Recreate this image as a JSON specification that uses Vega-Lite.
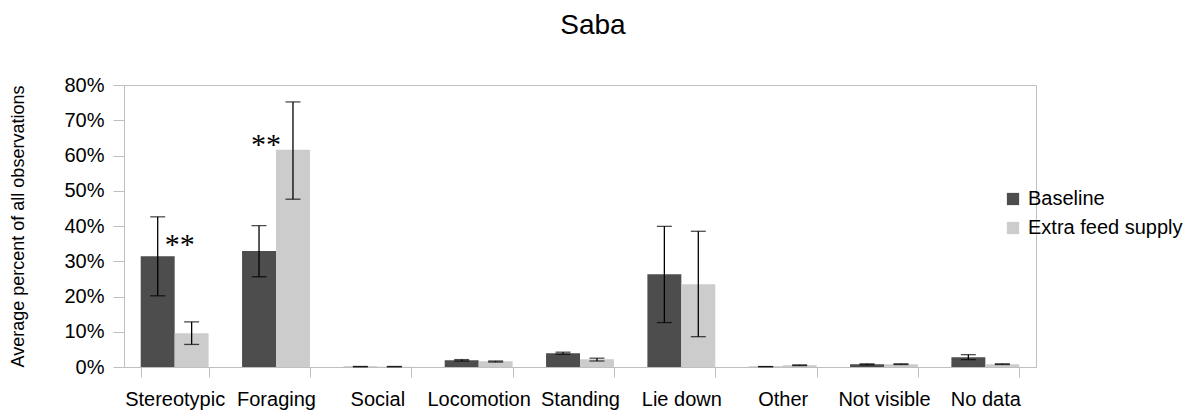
{
  "$schema": "https://vega.github.io/schema/vega-lite/v6.json",
  "width": 912,
  "height": 282,
  "autosize": "none",
  "padding": {"left": 124, "top": 85, "right": 162, "bottom": 43},
  "background": "white",
  "config": {"view": {"stroke": "#bfbfbf", "strokeWidth": 1}, "font": "Liberation Sans"},
  "title": {"text": "Saba", "fontSize": 28, "fontWeight": "normal", "font": "Liberation Sans", "color": "#000000", "anchor": "middle", "frame": "group", "baseline": "alphabetic", "offset": 13, "dx": 13},
  "data": {"values": [
    {"category": "Stereotypic", "group": "Baseline", "value": 0.314, "lo": 0.202, "hi": 0.426},
    {"category": "Stereotypic", "group": "Extra feed supply", "value": 0.096, "lo": 0.064, "hi": 0.128},
    {"category": "Foraging", "group": "Baseline", "value": 0.329, "lo": 0.256, "hi": 0.401},
    {"category": "Foraging", "group": "Extra feed supply", "value": 0.616, "lo": 0.476, "hi": 0.752},
    {"category": "Social", "group": "Baseline", "value": 0.001, "lo": 0.0005, "hi": 0.0015},
    {"category": "Social", "group": "Extra feed supply", "value": 0.001, "lo": 0.0005, "hi": 0.0015},
    {"category": "Locomotion", "group": "Baseline", "value": 0.019, "lo": 0.017, "hi": 0.021},
    {"category": "Locomotion", "group": "Extra feed supply", "value": 0.016, "lo": 0.014, "hi": 0.017},
    {"category": "Standing", "group": "Baseline", "value": 0.039, "lo": 0.036, "hi": 0.042},
    {"category": "Standing", "group": "Extra feed supply", "value": 0.022, "lo": 0.017, "hi": 0.025},
    {"category": "Lie down", "group": "Baseline", "value": 0.263, "lo": 0.126, "hi": 0.399},
    {"category": "Lie down", "group": "Extra feed supply", "value": 0.235, "lo": 0.086, "hi": 0.385},
    {"category": "Other", "group": "Baseline", "value": 0.001, "lo": 0.0008, "hi": 0.0013},
    {"category": "Other", "group": "Extra feed supply", "value": 0.005, "lo": 0.004, "hi": 0.006},
    {"category": "Not visible", "group": "Baseline", "value": 0.008, "lo": 0.006, "hi": 0.009},
    {"category": "Not visible", "group": "Extra feed supply", "value": 0.008, "lo": 0.007, "hi": 0.009},
    {"category": "No data", "group": "Baseline", "value": 0.028, "lo": 0.021, "hi": 0.035},
    {"category": "No data", "group": "Extra feed supply", "value": 0.008, "lo": 0.007, "hi": 0.009}
  ]},
  "encoding": {
    "x": {"field": "category", "type": "nominal",
      "sort": ["Stereotypic", "Foraging", "Social", "Locomotion", "Standing", "Lie down", "Other", "Not visible", "No data"],
      "scale": {"paddingInner": 0.33, "paddingOuter": 0.165},
      "axis": {"title": null, "labelAngle": 0, "labelFontSize": 20, "labelColor": "#000000", "labelPadding": 12, "labelOverlap": false, "tickBand": "extent", "tickSize": 10, "tickColor": "#bfbfbf", "domainColor": "#bfbfbf", "grid": false}}
  },
  "layer": [
    {"mark": {"type": "bar"},
     "encoding": {
       "xOffset": {"field": "group", "type": "nominal", "scale": {"domain": ["Baseline", "Extra feed supply"], "paddingInner": 0, "paddingOuter": 0}},
       "y": {"field": "value", "type": "quantitative", "scale": {"domain": [0, 0.8]},
         "axis": {"format": ".0%", "values": [0, 0.1, 0.2, 0.3, 0.4, 0.5, 0.6, 0.7, 0.8], "tickCount": 12, "labelOverlap": false, "grid": false, "labelFontSize": 20, "labelColor": "#000000", "labelPadding": 9, "tickSize": 11, "tickColor": "#bfbfbf", "domainColor": "#bfbfbf", "title": "Average percent of all observations", "titleFontSize": 18, "titleFontWeight": "normal", "titleColor": "#000000", "titleX": -106, "titleY": 141, "titleBaseline": "middle", "titleAlign": "center", "titleAngle": -90}},
       "color": {"field": "group", "type": "nominal", "scale": {"domain": ["Baseline", "Extra feed supply"], "range": ["#4d4d4d", "#cccccc"]},
         "legend": {"title": null, "orient": "none", "legendX": 879, "legendY": 104, "symbolType": "square", "symbolSize": 150, "symbolStrokeWidth": 0, "labelFontSize": 20, "labelColor": "#000000", "labelOffset": 5, "rowPadding": 9}}
     }},
    {"mark": {"type": "rule", "color": "#000000", "strokeWidth": 1.3},
     "encoding": {"xOffset": {"field": "group", "type": "nominal"},
       "y": {"field": "lo", "type": "quantitative", "axis": {"format": ".0%", "values": [0, 0.1, 0.2, 0.3, 0.4, 0.5, 0.6, 0.7, 0.8], "tickCount": 12, "labelOverlap": false, "grid": false, "labelFontSize": 20, "labelColor": "#000000", "labelPadding": 9, "tickSize": 11, "tickColor": "#bfbfbf", "domainColor": "#bfbfbf", "title": "Average percent of all observations", "titleFontSize": 18, "titleFontWeight": "normal", "titleColor": "#000000", "titleX": -106, "titleY": 141, "titleBaseline": "middle", "titleAlign": "center", "titleAngle": -90}},
       "y2": {"field": "hi"}}},
    {"mark": {"type": "tick", "color": "#000000", "thickness": 1.3, "size": 15},
     "encoding": {"xOffset": {"field": "group", "type": "nominal"},
       "y": {"field": "lo", "type": "quantitative", "axis": {"format": ".0%", "values": [0, 0.1, 0.2, 0.3, 0.4, 0.5, 0.6, 0.7, 0.8], "tickCount": 12, "labelOverlap": false, "grid": false, "labelFontSize": 20, "labelColor": "#000000", "labelPadding": 9, "tickSize": 11, "tickColor": "#bfbfbf", "domainColor": "#bfbfbf", "title": "Average percent of all observations", "titleFontSize": 18, "titleFontWeight": "normal", "titleColor": "#000000", "titleX": -106, "titleY": 141, "titleBaseline": "middle", "titleAlign": "center", "titleAngle": -90}}}},
    {"mark": {"type": "tick", "color": "#000000", "thickness": 1.3, "size": 15},
     "encoding": {"xOffset": {"field": "group", "type": "nominal"},
       "y": {"field": "hi", "type": "quantitative", "axis": {"format": ".0%", "values": [0, 0.1, 0.2, 0.3, 0.4, 0.5, 0.6, 0.7, 0.8], "tickCount": 12, "labelOverlap": false, "grid": false, "labelFontSize": 20, "labelColor": "#000000", "labelPadding": 9, "tickSize": 11, "tickColor": "#bfbfbf", "domainColor": "#bfbfbf", "title": "Average percent of all observations", "titleFontSize": 18, "titleFontWeight": "normal", "titleColor": "#000000", "titleX": -106, "titleY": 141, "titleBaseline": "middle", "titleAlign": "center", "titleAngle": -90}}}},
    {"data": {"values": [{"category": "Stereotypic", "pos": 0.366, "label": "**"}]},
     "mark": {"type": "text", "font": "Liberation Serif", "fontSize": 30, "baseline": "middle", "align": "center", "dx": 5, "dy": 7, "color": "#000000"},
     "encoding": {"y": {"field": "pos", "type": "quantitative", "axis": {"format": ".0%", "values": [0, 0.1, 0.2, 0.3, 0.4, 0.5, 0.6, 0.7, 0.8], "tickCount": 12, "labelOverlap": false, "grid": false, "labelFontSize": 20, "labelColor": "#000000", "labelPadding": 9, "tickSize": 11, "tickColor": "#bfbfbf", "domainColor": "#bfbfbf", "title": "Average percent of all observations", "titleFontSize": 18, "titleFontWeight": "normal", "titleColor": "#000000", "titleX": -106, "titleY": 141, "titleBaseline": "middle", "titleAlign": "center", "titleAngle": -90}}, "text": {"field": "label"}}},
    {"data": {"values": [{"category": "Foraging", "pos": 0.649, "label": "**"}]},
     "mark": {"type": "text", "font": "Liberation Serif", "fontSize": 30, "baseline": "middle", "align": "center", "dx": -10, "dy": 7, "color": "#000000"},
     "encoding": {"y": {"field": "pos", "type": "quantitative", "axis": {"format": ".0%", "values": [0, 0.1, 0.2, 0.3, 0.4, 0.5, 0.6, 0.7, 0.8], "tickCount": 12, "labelOverlap": false, "grid": false, "labelFontSize": 20, "labelColor": "#000000", "labelPadding": 9, "tickSize": 11, "tickColor": "#bfbfbf", "domainColor": "#bfbfbf", "title": "Average percent of all observations", "titleFontSize": 18, "titleFontWeight": "normal", "titleColor": "#000000", "titleX": -106, "titleY": 141, "titleBaseline": "middle", "titleAlign": "center", "titleAngle": -90}}, "text": {"field": "label"}}}
  ]
}
